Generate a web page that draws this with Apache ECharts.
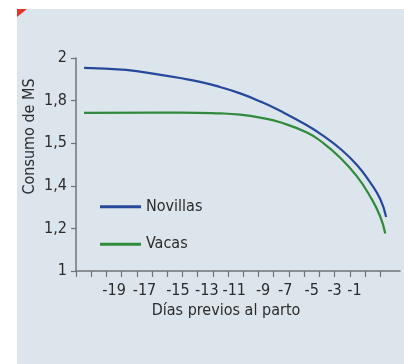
<!DOCTYPE html>
<html>
<head>
<meta charset="utf-8">
<script src="https://cdn.jsdelivr.net/npm/echarts@6/dist/echarts.min.js"></script>
<style>
html, body { margin: 0; padding: 0; background: #fff; }
#root { width: 404px; height: 364px; }
</style>
</head>
<body>
<div id="root"></div>
<script>
// y labels are evenly spaced in the original, so the axis runs 0..5 in "label steps"
var yLabels = ['1', '1,2', '1,4', '1,5', '1,8', '2'];
// x runs in tick steps (one tick per day, 0 = y axis)
var dayLabels = ['-19', '-17', '-15', '-13', '-11', '-9', '-7', '-5', '-3', '-1'];
var dayLabelAt = [2.5, 4.5, 6.7, 8.6, 10.4, 12.3, 13.75, 15.5, 17.0, 18.3];
var dayTicks = [0, 1, 2, 3, 4, 5, 6, 7, 8, 9, 10, 11, 12, 13, 14, 15, 16, 17, 18, 19, 20];

var xNovillas = [0.53, 3.29, 5.46, 6.84, 8.16, 9.47, 10.79, 12.11, 13.42, 15.18, 16.27, 17.37, 18.47, 19.34, 20.0, 20.39];
var novillas = [4.77, 4.72, 4.61, 4.53, 4.44, 4.32, 4.17, 3.98, 3.76, 3.42, 3.17, 2.87, 2.49, 2.08, 1.69, 1.27];
var xVacas = [0.53, 5.46, 6.84, 9.47, 10.79, 12.11, 13.42, 15.18, 16.27, 17.37, 18.47, 19.34, 20.0, 20.33];
var vacas = [3.71, 3.72, 3.72, 3.70, 3.67, 3.60, 3.49, 3.25, 3.00, 2.66, 2.22, 1.75, 1.28, 0.88];

var font = '"Liberation Sans Narrow", "DejaVu Sans Condensed", sans-serif';
var ink = '#2b2b2b';
var axisColor = '#6f7377';

function pairs(xs, ys) {
    return xs.map(function (x, i) { return [x, ys[i]]; });
}

var chart = echarts.init(document.getElementById('root'));
chart.setOption({
    animation: false,
    backgroundColor: '#ffffff',
    textStyle: { fontFamily: font },
    graphic: [
        {
            type: 'rect', z: -10, silent: true,
            shape: { x: 17, y: 9, width: 387, height: 355 },
            style: { fill: '#dde5ec' }
        },
        {
            type: 'polygon', z: -9, silent: true,
            shape: { points: [[17, 9], [27, 9], [17, 17]] },
            style: { fill: '#e2382b' }
        }
    ],
    grid: { left: 76, right: 4, top: 58, bottom: 93 },
    legend: {
        orient: 'vertical',
        left: 100,
        top: 198.7,
        padding: 0,
        icon: 'rect',
        itemWidth: 41,
        itemHeight: 3,
        itemGap: 21.6,
        textStyle: { fontFamily: font, fontSize: 16, color: ink, lineHeight: 16 },
        data: ['Novillas', 'Vacas']
    },
    xAxis: {
        type: 'value',
        min: 0,
        max: 21.3,
        interval: 1,
        name: 'Días previos al parto',
        nameLocation: 'middle',
        nameGap: 32,
        nameMoveOverlap: false,
        nameTextStyle: { fontFamily: font, fontSize: 16, color: ink, padding: [0, 24, 0, 0] },
        splitLine: { show: false },
        axisLine: { show: true, lineStyle: { color: axisColor, width: 1.5 } },
        axisTick: { show: true, length: 6, customValues: dayTicks, lineStyle: { color: axisColor, width: 1.2 } },
        axisLabel: {
            customValues: dayLabelAt,
            margin: 12,
            fontFamily: font,
            fontSize: 16,
            color: ink,
            formatter: function (v) {
                var i = dayLabelAt.indexOf(v);
                return i < 0 ? '' : dayLabels[i];
            }
        }
    },
    yAxis: {
        type: 'value',
        min: 0,
        max: 5,
        interval: 1,
        name: 'Consumo de MS',
        nameLocation: 'middle',
        nameRotate: 90,
        nameGap: 38,
        nameMoveOverlap: false,
        nameTextStyle: { fontFamily: font, fontSize: 16, color: ink, padding: [0, 0, 0, 56] },
        splitLine: { show: false },
        axisLine: { show: true, lineStyle: { color: axisColor, width: 1.5 } },
        axisTick: { show: true, length: 5, lineStyle: { color: axisColor, width: 1.2 } },
        axisLabel: {
            margin: 9,
            fontFamily: font,
            fontSize: 16,
            color: ink,
            formatter: function (v) { return yLabels[v]; }
        }
    },
    series: [
        {
            name: 'Novillas',
            type: 'line',
            smooth: 0.5,
            symbol: 'none',
            color: '#25489b',
            lineStyle: { width: 2.2, color: '#25489b' },
            data: pairs(xNovillas, novillas)
        },
        {
            name: 'Vacas',
            type: 'line',
            smooth: 0.5,
            symbol: 'none',
            color: '#2f8a3b',
            lineStyle: { width: 2.2, color: '#2f8a3b' },
            data: pairs(xVacas, vacas)
        }
    ]
});
</script>
</body>
</html>
